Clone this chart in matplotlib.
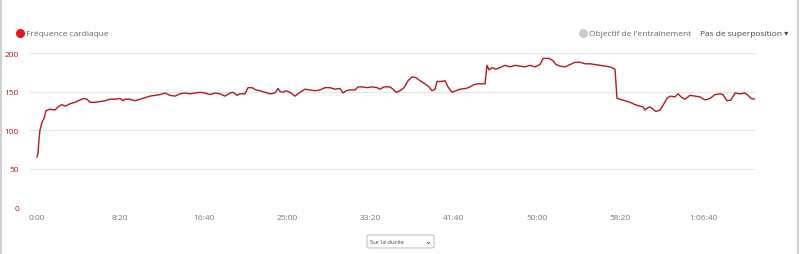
import matplotlib.pyplot as plt
from matplotlib.patches import FancyBboxPatch
from matplotlib.lines import Line2D

plt.rcParams['font.family'] = ['Open Sans', 'DejaVu Sans']

# temps (s) et frequence cardiaque (bpm)
temps = [0, 6, 12, 18, 30, 42, 54, 78, 108, 126, 150, 168, 198, 228, 258, 282, 300, 318, 348,
         378, 408, 438, 468, 498, 516, 528, 558, 588, 618, 648, 678, 708, 738, 768, 798, 828,
         858, 888, 918, 948, 978, 1008, 1038, 1068, 1098, 1128, 1158, 1176, 1200, 1218, 1248,
         1266, 1290, 1314, 1338, 1368, 1398, 1428, 1446, 1458, 1476, 1494, 1518, 1548, 1578,
         1608, 1638, 1668, 1698, 1728, 1758, 1788, 1818, 1836, 1854, 1878, 1908, 1926, 1950,
         1980, 2010, 2040, 2058, 2082, 2118, 2136, 2154, 2178, 2202, 2226, 2250, 2274, 2298,
         2328, 2352, 2370, 2388, 2400, 2424, 2448, 2466, 2490, 2514, 2538, 2574, 2598, 2622,
         2646, 2688, 2700, 2712, 2730, 2754, 2778, 2808, 2838, 2868, 2898, 2928, 2958, 2988,
         3018, 3036, 3072, 3096, 3114, 3138, 3168, 3198, 3228, 3258, 3288, 3318, 3348, 3378,
         3408, 3438, 3468, 3480, 3498, 3528, 3558, 3588, 3618, 3636, 3648, 3666, 3678, 3696,
         3714, 3738, 3756, 3780, 3798, 3828, 3846, 3870, 3888, 3918, 3948, 3978, 4008, 4038,
         4068, 4098, 4116, 4140, 4164, 4188, 4218, 4248, 4266, 4284, 4308]
fc = [65, 70, 88, 100, 110, 115, 125, 127, 126, 130, 133, 131, 134, 136, 139, 141, 140, 136, 136,
      137, 138, 140, 140, 141, 138, 140, 140, 138, 140, 142, 144, 145, 146, 148, 145, 144,
      147, 148, 147, 148, 149, 148, 146, 148, 147, 144, 148, 149, 145, 147, 147,
      155, 155, 152, 151, 149, 147, 148, 154, 150, 149, 151, 149, 144, 149,
      153, 152, 151, 152, 155, 155, 153, 154, 148, 151, 152, 152, 156, 156,
      155, 156, 155, 153, 156, 156, 153, 149, 151, 155, 164, 169, 168, 164,
      160, 156, 151, 153, 163, 163, 164, 156, 149, 151, 153, 154, 156, 159,
      160, 160, 184, 178, 181, 179, 181, 184, 182, 184, 183, 182, 184, 182,
      185, 193, 193, 190, 185, 183, 182, 185, 188, 188, 186, 186, 185, 184,
      183, 182, 179, 141, 140, 138, 136, 133, 131, 130, 126, 129, 130, 127,
      124, 126, 132, 141, 144, 143, 147, 142, 140, 145, 144, 143, 139, 141,
      146, 147, 146, 138, 139, 148, 147, 148, 145, 141, 140]

xticks = [0, 500, 1000, 1500, 2000, 2500, 3000, 3500, 4000]
xlabels = ['0:00', '8:20', '16:40', '25:00', '33:20', '41:40', '50:00', '58:20', '1:06:40']
yticks = [0, 50, 100, 150, 200]

fig = plt.figure(figsize=(8, 2.55), dpi=100)
ax = fig.add_axes([0.0375, 0.1843, 0.90625, 0.6039])

ax.plot(temps, fc, color='#b3181d', linewidth=1.0)

ax.set_xlim(-42, 4308)
ax.set_ylim(0, 200)
ax.set_xticks(xticks)
ax.set_xticklabels(xlabels)
ax.set_yticks(yticks)
ax.tick_params(axis='x', length=0, pad=5, labelsize=6, labelcolor='#777777')
ax.tick_params(axis='y', length=0, pad=8, labelsize=6, labelcolor='#b5161b')
ax.grid(axis='y', color='#e6e6e6', linewidth=0.8)
ax.set_axisbelow(True)
for s in ax.spines.values():
    s.set_visible(False)

# legende du haut
y_leg = 1 - 34 / 255
fig.add_artist(Line2D([20 / 800], [y_leg], marker='o', markersize=5.5,
                      color='#e8141b', transform=fig.transFigure))
fig.text(26 / 800, y_leg, 'Fréquence cardiaque', fontsize=6, color='#666666', va='center')
fig.add_artist(Line2D([583 / 800], [y_leg], marker='o', markersize=5.5,
                      color='#cccccc', transform=fig.transFigure))
fig.text(589 / 800, y_leg, "Objectif de l'entraînement", fontsize=6, color='#666666', va='center')
fig.text(700 / 800, y_leg, 'Pas de superposition ▾', fontsize=6, color='#444444', va='center')

# menu deroulant en bas
box = FancyBboxPatch((367 / 800, 1 - 249 / 255), 67 / 800, 13 / 255,
                     boxstyle='round,pad=0,rounding_size=0.004', transform=fig.transFigure,
                     facecolor='white', edgecolor='#bbbbbb', linewidth=0.7)
fig.add_artist(box)
fig.text(370 / 800, 1 - 242.5 / 255, 'Sur la durée', fontsize=4.3, color='#444444', va='center')
fig.text(431 / 800, 1 - 242.5 / 255, '⌄', fontsize=6, color='#333333', va='center', ha='right')

# bordure grise
fig.add_artist(Line2D([0.001, 0.001], [0, 1], color='#d0d0d0', linewidth=1.5, transform=fig.transFigure))
fig.add_artist(Line2D([0.998, 0.998], [0, 1], color='#d0d0d0', linewidth=1.5, transform=fig.transFigure))

fig.savefig('out.png', dpi=100)
